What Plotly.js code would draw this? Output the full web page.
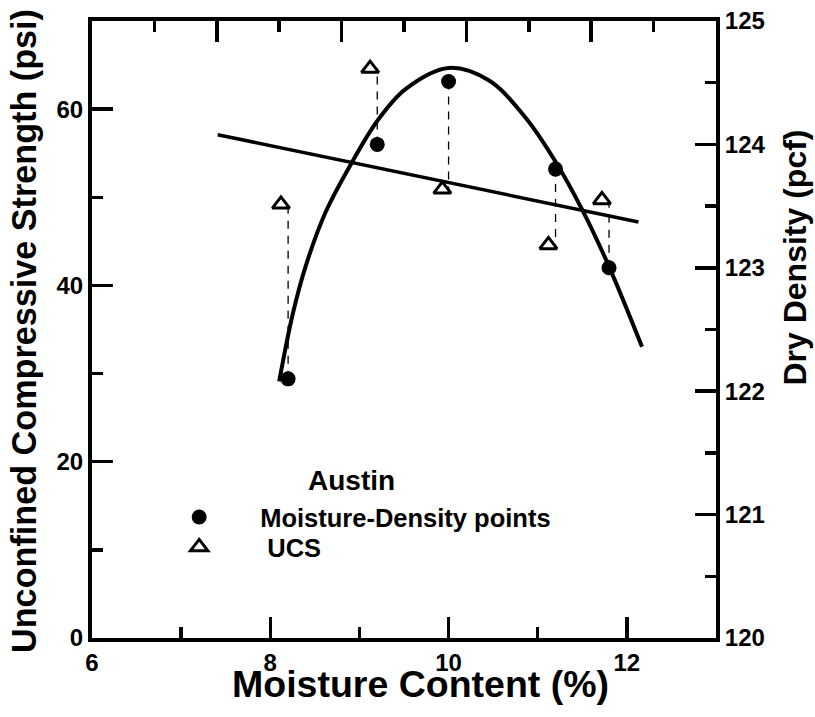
<!DOCTYPE html>
<html>
<head>
<meta charset="utf-8">
<script src="https://cdn.plot.ly/plotly-3.0.1.min.js"></script>
<style>html,body{margin:0;padding:0;background:#fff;}#chart{width:815px;height:717px;}</style>
</head>
<body>
<div id="chart"></div>
<script>
// Moisture-density points (dry density, right axis)
const moistureMD = [8.2, 9.2, 10.0, 11.2, 11.8];
const dryDensity = [122.1, 124.0, 124.51, 123.8, 123.0];
// Unconfined compressive strength points (left axis)
const moistureUCS = [8.12, 9.12, 9.93, 11.12, 11.72];
const ucs = [49.2, 64.6, 50.9, 44.6, 49.7];
// UCS trend line
const ucsTrendX = [7.41, 12.13];
const ucsTrendY = [57.1, 47.2];
// Compaction curve
const curveX = [8.10, 8.25, 8.40, 8.62, 8.92, 9.20, 9.52, 10.0, 10.45, 10.86, 11.20, 11.50, 11.80, 12.17];
const curveY = [122.08, 122.62, 123.02, 123.45, 123.86, 124.19, 124.45, 124.62, 124.52, 124.22, 123.86, 123.47, 123.01, 122.36];
// Axis ranges / labels
const xRange = [6, 13];
const xTopRange = [0, 10];
const yLeftRange = [0, 70];
const yRightRange = [120, 125];
const titleX = 'Moisture Content (%)';
const titleYLeft = 'Unconfined Compressive Strength (psi)';
const titleYRight = 'Dry Density (pcf)';
const groupLabel = 'Austin';
const nameMD = 'Moisture-Density points';
const nameUCS = '\u00a0UCS';

const FONT = 'Liberation Sans, Arial, Helvetica, sans-serif';
const INK = '#000';

// map a UCS value onto the right-axis scale for the vertical connectors
function ucsToDensity(v) {
  return yRightRange[0] + (v - yLeftRange[0]) * (yRightRange[1] - yRightRange[0]) / (yLeftRange[1] - yLeftRange[0]);
}
const connX = [], connY = [];
for (let i = 0; i < moistureMD.length; i++) {
  connX.push(moistureMD[i], moistureMD[i], null);
  connY.push(dryDensity[i], ucsToDensity(ucs[i]), null);
}

const legFont = {family: FONT, size: 25.5, color: INK, weight: 'bold'};

const traces = [
  // empty trace so the top (frame) axis gets drawn
  {x: [], y: [], xaxis: 'x2', yaxis: 'y', mode: 'lines', showlegend: false, hoverinfo: 'skip'},
  {x: connX, y: connY, xaxis: 'x', yaxis: 'y2', mode: 'lines', showlegend: false,
   line: {color: INK, width: 1.3, dash: '8px,7px'}, hoverinfo: 'skip'},
  {x: ucsTrendX, y: ucsTrendY, xaxis: 'x', yaxis: 'y', mode: 'lines', showlegend: false,
   line: {color: INK, width: 3.5}},
  {x: curveX, y: curveY, xaxis: 'x', yaxis: 'y2', mode: 'lines', showlegend: false,
   line: {color: INK, width: 4, shape: 'spline', smoothing: 1}},
  {x: moistureMD, y: dryDensity, xaxis: 'x', yaxis: 'y2', mode: 'markers', name: nameMD, legend: 'legend',
   marker: {symbol: 'circle', size: 15, color: INK}},
  {x: moistureUCS, y: ucs, xaxis: 'x', yaxis: 'y', mode: 'markers', name: nameUCS, legend: 'legend2',
   marker: {symbol: 'triangle-up-open', size: 15, color: INK, line: {width: 3, color: INK}}}
];

const tickFont = {family: FONT, size: 24, color: INK, weight: 'bold'};
const majorTicks = {ticks: 'inside', ticklen: 21, tickwidth: 3.5, tickcolor: INK};
const minorTicks = {ticks: 'inside', ticklen: 11, tickwidth: 3.5, tickcolor: INK};
const axisLine = {showline: true, linewidth: 4, linecolor: INK, showgrid: false, zeroline: false};

const layout = {
  width: 815, height: 717,
  margin: {l: 92, r: 99, t: 21, b: 79, pad: 0},
  paper_bgcolor: '#fff', plot_bgcolor: '#fff',
  font: {family: FONT, color: INK},
  showlegend: true,
  legend: {x: 0.074, y: 0.2334, xanchor: 'left', yanchor: 'top', bgcolor: 'rgba(0,0,0,0)',
           borderwidth: 0, itemwidth: 112, font: legFont},
  legend2: {x: 0.074, y: 0.185, xanchor: 'left', yanchor: 'top', bgcolor: 'rgba(0,0,0,0)',
           borderwidth: 0, itemwidth: 112, font: legFont},
  xaxis: Object.assign({range: xRange, dtick: 2, tick0: 6, minor: Object.assign({dtick: 1}, minorTicks),
          tickfont: tickFont, anchor: 'y'}, majorTicks, axisLine),
  xaxis2: Object.assign({range: xTopRange, dtick: 2, tick0: 0, overlaying: 'x', side: 'top', anchor: 'y',
           minor: Object.assign({dtick: 1}, minorTicks), showticklabels: false}, majorTicks, axisLine),
  yaxis: Object.assign({range: yLeftRange, dtick: 20, tick0: 0, minor: Object.assign({dtick: 10}, minorTicks),
          tickfont: tickFont, anchor: 'x'}, majorTicks, axisLine),
  yaxis2: Object.assign({range: yRightRange, dtick: 1, tick0: 120, overlaying: 'y', side: 'right', anchor: 'x',
           minor: Object.assign({dtick: 0.5}, minorTicks), tickfont: tickFont}, majorTicks, axisLine),
  annotations: [
    {text: titleX, xref: 'paper', yref: 'paper', x: 0.526, y: -0.038, xanchor: 'center', yanchor: 'top',
     showarrow: false, font: {family: FONT, size: 37.5, color: INK, weight: 'bold'}},
    {text: titleYLeft, xref: 'paper', yref: 'paper', x: -0.108, y: 0.497, xanchor: 'center', yanchor: 'middle',
     textangle: -90, showarrow: false, font: {family: FONT, size: 34.2, color: INK, weight: 'bold'}},
    {text: titleYRight, xref: 'paper', yref: 'paper', x: 1.127, y: 0.617, xanchor: 'center', yanchor: 'middle',
     textangle: -90, showarrow: false, font: {family: FONT, size: 32, color: INK, weight: 'bold'}},
    {text: groupLabel, xref: 'paper', yref: 'paper', x: 0.416, y: 0.255, xanchor: 'center', yanchor: 'middle',
     showarrow: false, font: {family: FONT, size: 28, color: INK, weight: 'bold'}}
  ]
};

Plotly.newPlot('chart', traces, layout, {staticPlot: true, displayModeBar: false});
</script>
</body>
</html>
